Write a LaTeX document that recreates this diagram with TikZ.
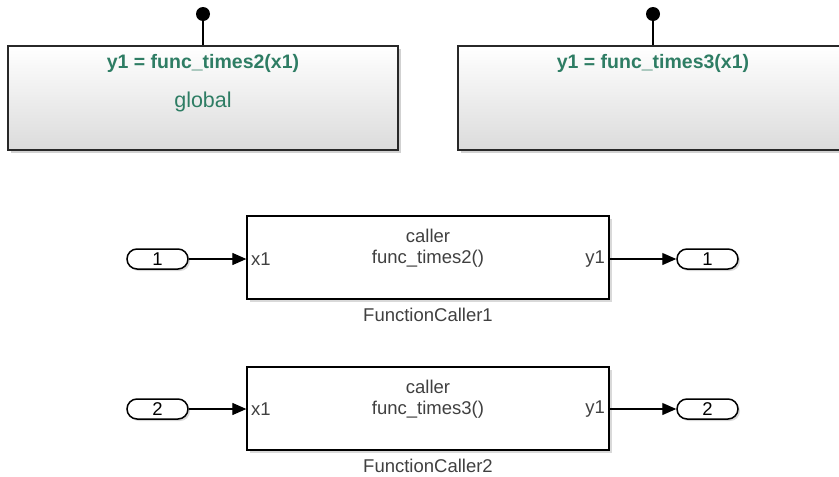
\documentclass[tikz,border=0pt]{standalone}
\usepackage{fontspec}
\setmainfont{Liberation Sans}
\usetikzlibrary{shadows,arrows.meta}
\definecolor{fgreen}{RGB}{46,125,100}
\definecolor{edge}{RGB}{40,40,40}
\tikzset{
  fcnblock/.style={draw=edge, line width=1.6pt, top color=white, bottom color=black!14,
    minimum width=390pt, minimum height=104pt, inner sep=0pt,
    drop shadow={shadow xshift=3pt, shadow yshift=-3pt, fill=black!30, opacity=0.6}},
  callblock/.style={draw=black, line width=1.3pt, fill=white,
    minimum width=362pt, minimum height=83pt, inner sep=0pt,
    drop shadow={shadow xshift=3pt, shadow yshift=-3pt, fill=black!25, opacity=0.6}},
  port/.style={draw=black, line width=1.5pt, fill=white, rounded corners=10pt,
    minimum width=61pt, minimum height=20pt, inner sep=0pt, font=\fontsize{18.5}{22}\selectfont,
    drop shadow={shadow xshift=2pt, shadow yshift=-2pt, fill=black!25, opacity=0.6}},
  lbl/.style={inner sep=0pt, text=black!75, font=\fontsize{18.5}{22}\selectfont},
  ftitle/.style={inner sep=0pt, text=fgreen, font=\bfseries\fontsize{19.5}{23}\selectfont},
  sig/.style={line width=1.2pt, -{Triangle[length=14pt,width=12pt]}}
}
\begin{document}
\begin{tikzpicture}[x=1pt,y=-1pt]
\useasboundingbox (0,0) rectangle (839,477);
% function blocks
\node[fcnblock] (f2) at (203,98) {};
\node[fcnblock] (f3) at (653,98) {};
\node[ftitle] (f2t) at (203,63) {y1 = func\_times2(x1)};
\node[lbl, text=fgreen, font=\fontsize{21.5}{25}\selectfont] (f2g) at (203,102) {global};
\node[ftitle] (f3t) at (653,63) {y1 = func\_times3(x1)};
\coordinate (trig2) at (203,14);
\coordinate (trig3) at (653,14);
\draw[line width=1.4pt] (trig2) -- (f2.north);
\draw[line width=1.4pt] (trig3) -- (f3.north);
\fill (trig2) circle (7pt);
\fill (trig3) circle (7pt);
% caller blocks
\node[callblock] (c1) at (428,257.5) {};
\node[lbl] at (428,236) {caller};
\node[lbl] at (428,259) {func\_times2()};
\node[lbl, anchor=west] at (251,259) {x1};
\node[lbl, anchor=east] at (605,259) {y1};
\node[lbl] (c1n) at (428,315) {FunctionCaller1};
\node[callblock] (c2) at (428,408.5) {};
\node[lbl] at (428,387) {caller};
\node[lbl] at (428,410) {func\_times3()};
\node[lbl, anchor=west] at (251,409) {x1};
\node[lbl, anchor=east] at (605,409) {y1};
\node[lbl] (c2n) at (428,466) {FunctionCaller2};
% ports
\node[port] (in1) at (157.5,259) {1};
\node[port] (out1) at (707.5,259) {1};
\node[port] (in2) at (157.5,409) {2};
\node[port] (out2) at (707.5,409) {2};
\draw[sig] (in1.east) -- (in1.east -| c1.west);
\draw[sig] (c1.east |- out1.west) -- (out1.west);
\draw[sig] (in2.east) -- (in2.east -| c2.west);
\draw[sig] (c2.east |- out2.west) -- (out2.west);
\end{tikzpicture}
\end{document}
